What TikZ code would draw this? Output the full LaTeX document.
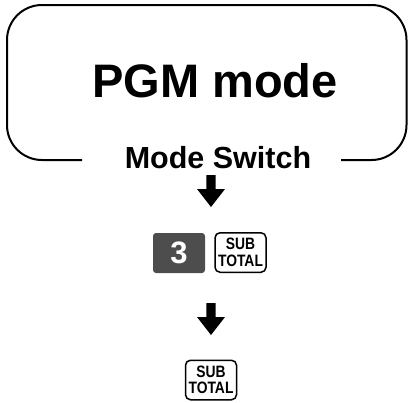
\documentclass[tikz,border=0pt]{standalone}
\usepackage{fontspec}
\setmainfont{Liberation Sans}
\newfontfamily\keyfont[FakeStretch=0.84]{Liberation Sans Bold}
\definecolor{keygray}{HTML}{4D4D4D}
\begin{document}
\begin{tikzpicture}[x=1pt,y=-1pt,
  blockarrow/.pic={\fill[black] (-4.7,0) -- (4.7,0) -- (4.7,14) -- (14,14) -- (0,32) -- (-14,14) -- (-4.7,14) -- cycle;},
  framebox/.style={line width=2pt, rounded corners=35pt},
  keybox/.style={draw, line width=1.5pt, rounded corners=5pt, minimum width=51pt, minimum height=39.5pt,
    align=center, inner sep=0pt, font=\keyfont\fontsize{16.5}{16.5}\selectfont},
  darkkey/.style={fill=keygray, rounded corners=3pt, minimum width=52pt, minimum height=40pt,
    inner sep=0pt, text=white, font=\bfseries\fontsize{31}{31}\selectfont},
  title/.style={font=\bfseries\fontsize{47}{47}\selectfont, inner sep=0pt, anchor=base},
  subtitle/.style={font=\bfseries\fontsize{30.5}{30.5}\selectfont, inner sep=0pt, anchor=base}]
\useasboundingbox (0,0) rectangle (409,402);
\draw[framebox] (82,160) -- (7,160) -- (7,5) -- (406.5,5) -- (406.5,160) -- (341,160);
\node[title] (pgm) at (215,97) {PGM mode};
\node[subtitle] (ms) at (218,168) {Mode Switch};
\coordinate (a1) at (211,175);
\pic at (a1) {blockarrow};
\node[darkkey] (k3) at (179,253) {3};
\node[keybox] (sub1) at (240.5,252.5) {SUB\\TOTAL};
\coordinate (a2) at (211,303);
\pic at (a2) {blockarrow};
\node[keybox] (sub2) at (211,380) {SUB\\TOTAL};
\end{tikzpicture}
\end{document}
